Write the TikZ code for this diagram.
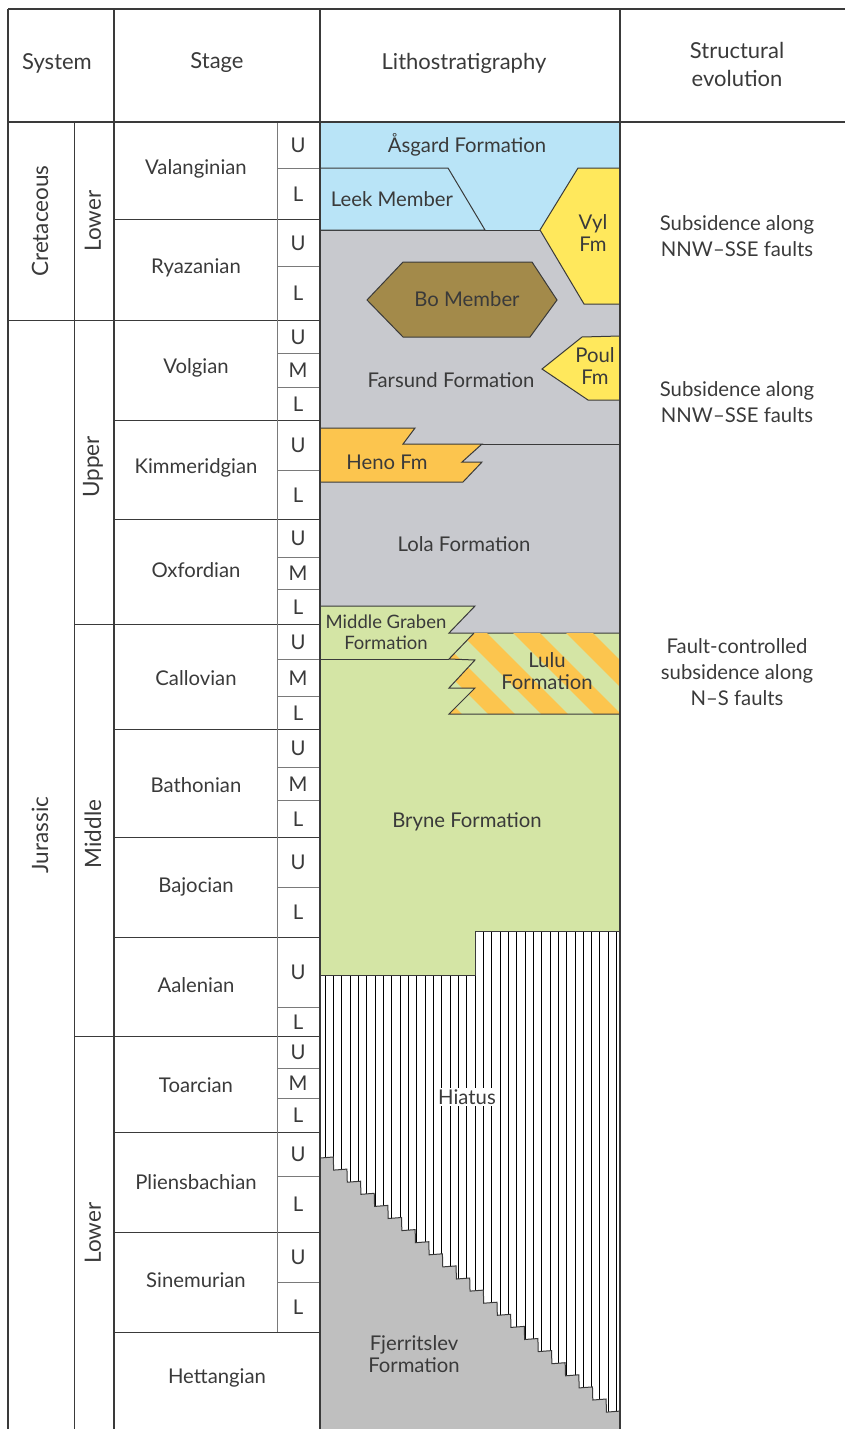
\documentclass[tikz,border=0pt]{standalone}
\usepackage{fontspec}
\setmainfont{Lato}
\definecolor{inkgrey}{HTML}{3A3A3A}
\definecolor{rulegrey}{HTML}{7A7A7A}
\definecolor{asgardblue}{HTML}{B9E4F7}
\definecolor{farsundgrey}{HTML}{C8C9CE}
\definecolor{bobrown}{HTML}{A38A4A}
\definecolor{vylyellow}{HTML}{FFE85C}
\definecolor{henoorange}{HTML}{FCC54E}
\definecolor{brynegreen}{HTML}{D4E5A5}
\definecolor{fjerrgrey}{HTML}{BFBFBF}

\begin{document}
\begin{tikzpicture}[x=1pt, y=-1pt,
    lbl/.style={font=\fontsize{20.3}{21.5}\selectfont, text=inkgrey, align=center, inner sep=0pt},
    evo/.style={lbl, font=\fontsize{20.3}{26}\selectfont},
    headlbl/.style={lbl, font=\fontsize{22}{28}\selectfont},
    sidelbl/.style={lbl, font=\fontsize{22.5}{24}\selectfont, rotate=90},
    unitline/.style={draw=inkgrey, line width=1pt},
    framerule/.style={draw=inkgrey, line width=2pt},
    thinrule/.style={draw=inkgrey, line width=1pt},
    subrule/.style={draw=rulegrey, line width=1pt},
    hatch/.style={draw=black, line width=0.8pt}]

\useasboundingbox (0,0) rectangle (845,1429);

% lithostratigraphy fills
\fill[farsundgrey] (320,230) rectangle (620,640);
\fill[asgardblue] (320,122) rectangle (620,230);
\draw[unitline] (320,230) -- (540,230);
\filldraw[asgardblue, unitline] (320,168) -- (448,168) -- (485,230) -- (320,230) -- cycle;
\filldraw[vylyellow, unitline] (620,168) -- (578,168) -- (540,230) -- (584,304) -- (620,304);
\filldraw[bobrown, unitline] (367,300) -- (403,262) -- (532,262) -- (557,300) -- (530,337) -- (403,337) -- cycle;
\filldraw[vylyellow, unitline] (620,336) -- (582,337) -- (542,369) -- (588,400) -- (620,400);
\draw[unitline] (482,444) -- (620,444);
\filldraw[henoorange, unitline] (320,428) -- (415,428) -- (403,444) -- (482,444) -- (462,462) -- (482,462) -- (463,482) -- (320,482);

% Bryne and Middle Graben
\fill[brynegreen] (320,606) -- (475,606) -- (449,633) -- (620,633) -- (620,931) -- (475,931) -- (475,975) -- (320,975) -- cycle;
\draw[unitline] (320,606) -- (475,606) -- (449,633) -- (620,633);
\draw[unitline] (320,659) -- (449,659);

% Lulu stripes
\begin{scope}
  \clip (474,633) -- (620,633) -- (620,714) -- (449,714) -- (475,688) -- (449,688) -- (475,660) -- (449,659) -- cycle;
  \foreach \xs in {354,407,460,513,566,619}
    \draw[henoorange, line width=19pt] ({\xs+13.5-120},513) -- ({\xs+13.5+200},833);
\end{scope}
\draw[unitline] (474,633) -- (449,659) -- (475,660) -- (449,688) -- (475,688) -- (449,714) -- (620,714);

% hiatus
\begin{scope}
  \clip (320,975) -- (475,975) -- (475,931) -- (620,931) -- (620,1429) -- (320,1429) -- cycle;
  \fill[white] (320,925) rectangle (620,1429);
  \foreach \k in {0,...,35}
    \draw[hatch] ({325+8.33*\k},925) -- ({325+8.33*\k},1429);
\end{scope}
\draw[unitline] (320,975) -- (475,975) -- (475,931) -- (620,931);

% Fjerritslev stairs
\filldraw[fjerrgrey, unitline] (320,1158)
  \foreach \i in {1,...,22} { -- ++(13.3,-1) -- ++(0.34,13.1) }
  -- (620,1432) -- (320,1432) -- cycle;

% table rules
\foreach \yy in {219,320,420,519,624,729,837,937,1036,1132,1232,1332}
  \draw[thinrule] (114,\yy) -- (320,\yy);
\foreach \yy in {168,266,353,387,470,557,589,659,696,767,800,887,1007,1068,1098,1176,1282}
  \draw[subrule] (277,\yy) -- (320,\yy);
\draw[subrule] (277,122) -- (277,1332);
\draw[thinrule] (8,320) -- (114,320);
\draw[thinrule] (74,624) -- (114,624);
\draw[thinrule] (74,1036) -- (114,1036);
\draw[thinrule] (74,122) -- (74,1429);
\draw[framerule] (8,9) -- (845,9);
\draw[framerule, line width=2.6pt] (8,122) -- (845,122);
\foreach \xx in {8,114,320,620}
  \draw[framerule] (\xx,9) -- (\xx,1429);

% header
\node[headlbl] (hsystem) at (57,63) {System};
\node[headlbl] (hstage) at (217,63) {Stage};
\node[headlbl] (hlitho) at (464,63) {Lithostratigraphy};
\node[headlbl] (hevo) at (737,64) {Structural\\evolution};

% systems and series
\node[sidelbl] (cretaceous) at (40,221) {Cretaceous};
\node[sidelbl] (jurassic) at (40,835) {Jurassic};
\node[sidelbl] (lowercret) at (93,221) {Lower};
\node[sidelbl] (upperjur) at (93,467) {Upper};
\node[sidelbl] (middlejur) at (93,834) {Middle};
\node[sidelbl] (lowerjur) at (93,1233) {Lower};

% stages
\node[lbl] (valanginian) at (196,169) {Valanginian};
\node[lbl] (ryazanian) at (196,268) {Ryazanian};
\node[lbl] (volgian) at (196,368) {Volgian};
\node[lbl] (kimmeridgian) at (196,468) {Kimmeridgian};
\node[lbl] (oxfordian) at (196,570) {Oxfordian};
\node[lbl] (callovian) at (196,678) {Callovian};
\node[lbl] (bathonian) at (196,785) {Bathonian};
\node[lbl] (bajocian) at (196,887) {Bajocian};
\node[lbl] (aalenian) at (196,985) {Aalenian};
\node[lbl] (toarcian) at (196,1085) {Toarcian};
\node[lbl] (pliensbachian) at (196,1182) {Pliensbachian};
\node[lbl] (sinemurian) at (196,1280) {Sinemurian};
\node[lbl] (hettangian) at (217,1378) {Hettangian};

% substages
\foreach \sl/\sy [count=\n] in {U/145,L/194,U/243,L/293,U/337,M/370,L/404,U/445,L/495,
    U/538,M/573,L/607,U/642,M/678,L/713,U/748,M/784,L/819,U/862,L/912,U/972,L/1022,
    U/1052,M/1083,L/1115,U/1154,L/1204,U/1257,L/1307}
  \node[lbl] (sub\n) at (298,\sy) {\sl};

% units
\node[lbl] (asgard) at (467,145) {Åsgard Formation};
\node[lbl] (leek) at (392,199) {Leek Member};
\node[lbl] (vyl) at (593,233) {Vyl\\Fm};
\node[lbl] (bo) at (467,299) {Bo Member};
\node[lbl] (poul) at (595,366) {Poul\\Fm};
\node[lbl] (farsund) at (451,380) {Farsund Formation};
\node[lbl] (heno) at (387,462) {Heno Fm};
\node[lbl] (lola) at (464,544) {Lola Formation};
\node[lbl, font=\fontsize{18.5}{21}\selectfont] (middlegraben) at (386,632) {Middle Graben\\Formation};
\node[lbl] (lulu) at (547,671) {Lulu\\Formation};
\node[lbl] (bryne) at (467,822) {Bryne Formation};
\node[lbl, fill=white, inner sep=2pt] (hiatus) at (467,1097) {Hiatus};
\node[lbl] (fjerritslev) at (414,1354) {Fjerritslev\\Formation};

% structural evolution
\node[evo] (evoupper) at (737,236) {Subsidence along\\NNW–SSE faults};
\node[evo] (evomid) at (737,402) {Subsidence along\\NNW–SSE faults};
\node[evo] (evofault) at (737,672) {Fault-controlled\\subsidence along\\N–S faults};
\end{tikzpicture}
\end{document}
